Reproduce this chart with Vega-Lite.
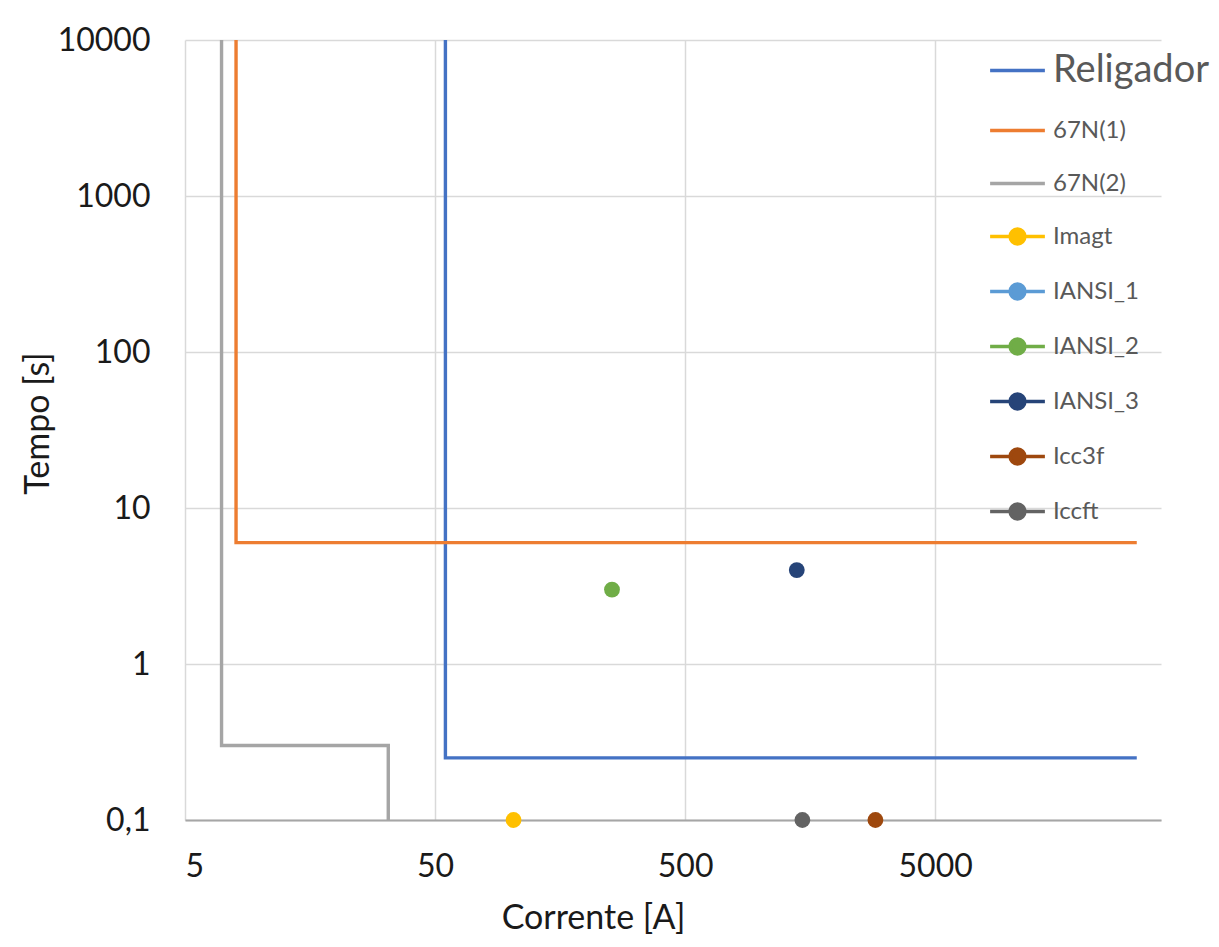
{
  "$schema": "https://vega.github.io/schema/vega-lite/v6.json",
  "width": 976,
  "height": 780,
  "autosize": {"type": "none"},
  "padding": {"left": 185, "top": 40, "right": 58, "bottom": 127},
  "background": "white",
  "config": {
    "view": {"stroke": null},
    "font": "Lato",
    "axis": {"ticks": false, "gridColor": "#D9D9D9", "gridWidth": 1.5, "labelFont": "Lato", "titleFont": "Lato", "labelFontSize": 32, "titleFontSize": 34, "labelColor": "#1a1a1a", "titleColor": "#1a1a1a", "titleFontWeight": "normal"}
  },
  "datasets": {
    "curves": [
      {"series": "Religador", "k": 0, "I": 55, "t": 10000},
      {"series": "Religador", "k": 1, "I": 55, "t": 0.25},
      {"series": "Religador", "k": 2, "I": 32000, "t": 0.25},
      {"series": "67N(1)", "k": 0, "I": 8, "t": 10000},
      {"series": "67N(1)", "k": 1, "I": 8, "t": 6},
      {"series": "67N(1)", "k": 2, "I": 32000, "t": 6},
      {"series": "67N(2)", "k": 0, "I": 7, "t": 10000},
      {"series": "67N(2)", "k": 1, "I": 7, "t": 0.3},
      {"series": "67N(2)", "k": 2, "I": 32.5, "t": 0.3},
      {"series": "67N(2)", "k": 3, "I": 32.5, "t": 0.1}
    ],
    "points": [
      {"series": "Imagt", "I": 103, "t": 0.1},
      {"series": "IANSI_2", "I": 255, "t": 3},
      {"series": "IANSI_3", "I": 1398, "t": 4},
      {"series": "Icc3f", "I": 2884, "t": 0.1},
      {"series": "Iccft", "I": 1472, "t": 0.1}
    ]
  },
  "layer": [
    {
      "data": {"name": "curves"},
      "mark": {"type": "line", "strokeWidth": 3.4, "clip": false},
      "encoding": {
        "x": {"field": "I", "type": "quantitative", "scale": {"type": "log", "domain": [5, 40000], "nice": false},
              "axis": {"title": "Corrente [A]", "values": [5, 50, 500, 5000], "labelExpr": "'' + datum.value", "labelPadding": 31, "domain": true, "domainColor": "#A6A6A6", "domainWidth": 2, "titleX": 408, "titleY": 98, "titleBaseline": "middle", "titleAlign": "center"}},
        "y": {"field": "t", "type": "quantitative", "scale": {"type": "log", "domain": [0.1, 10000], "nice": false},
              "axis": {"title": "Tempo [s]", "values": [0.1, 1, 10, 100, 1000, 10000], "labelExpr": "datum.value < 0.5 ? '0,1' : '' + datum.value", "labelPadding": 35, "domain": false, "titleX": -147, "titleY": 383, "titleBaseline": "middle", "titleAlign": "center", "titleAngle": -90}},
        "order": {"field": "k"},
        "detail": {"field": "series"},
        "color": {
          "field": "series", "type": "nominal",
          "scale": {
            "domain": ["Religador", "67N(1)", "67N(2)", "Imagt", "IANSI_1", "IANSI_2", "IANSI_3", "Icc3f", "Iccft"],
            "range": ["#4472C4", "#ED7D31", "#A5A5A5", "#FFC000", "#5B9BD5", "#70AD47", "#264478", "#9E480E", "#636363"]
          },
          "legend": {
            "title": null,
            "orient": "none",
            "legendX": 803,
            "legendY": 1,
            "symbolSize": 3000,
            "symbolStrokeWidth": 3.5,
            "labelFontSize": 24,
            "labelColor": "#595959",
            "labelFont": "Lato",
            "labelOffset": 6,
            "rowPadding": 11,
            "labelLimit": 300,
            "encode": {
              "symbols": {"update": {
                "shape": {"signal": "indexof(['Religador','67N(1)','67N(2)'], datum.value) >= 0 ? 'stroke' : 'M-1,0H-0.27M0.27,0H1M-0.27,0A0.27,0.27 0 1,0 0.27,0A0.27,0.27 0 1,0 -0.27,0Z'"},
                "fill": {"signal": "indexof(['Religador','67N(1)','67N(2)'], datum.value) >= 0 ? 'transparent' : scale('color', datum.value)"},
                "stroke": {"signal": "scale('color', datum.value)"},
                "strokeWidth": {"value": 3.5},
                "opacity": {"value": 1}
              }},
              "labels": {"update": {
                "fontSize": {"signal": "datum.value === 'Religador' ? 38 : 24"}
              }}
            }
          }
        }
      }
    },
    {
      "data": {"name": "points"},
      "mark": {"type": "point", "filled": true, "size": 250, "opacity": 1, "clip": false},
      "encoding": {
        "x": {"field": "I", "type": "quantitative"},
        "y": {"field": "t", "type": "quantitative"},
        "color": {"field": "series", "type": "nominal"}
      }
    }
  ]
}
